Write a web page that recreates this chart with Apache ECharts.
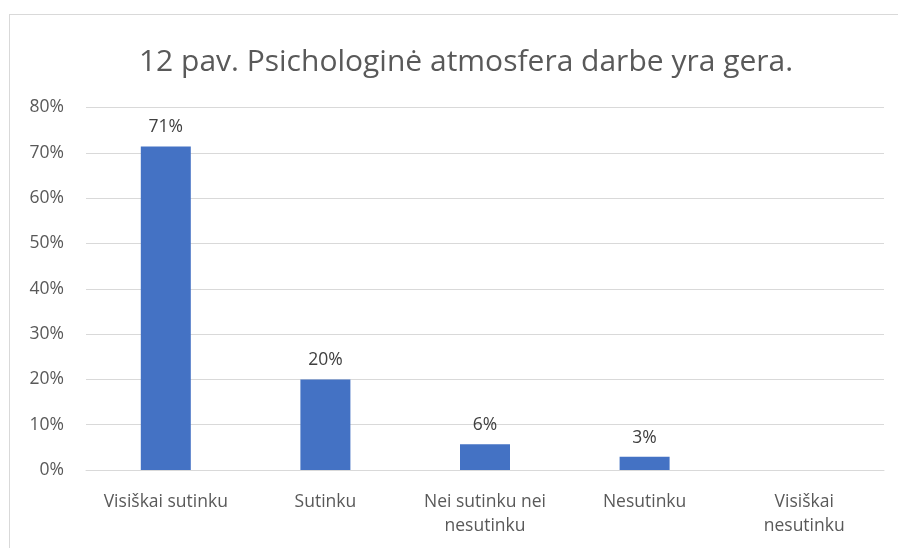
<!DOCTYPE html>
<html>
<head>
<meta charset="utf-8">
<script src="https://cdn.jsdelivr.net/npm/echarts@6/dist/echarts.min.js"></script>
<style>
  html, body { margin: 0; padding: 0; background: #fff; }
  .frame {
    position: absolute; left: 9px; top: 14px; width: 900px; height: 540px;
    border-left: 1px solid #d9d9d9; border-top: 1px solid #d9d9d9;
  }
  #chart { position: absolute; left: 0; top: 0; width: 898px; height: 548px; }
</style>
</head>
<body>
<div class="frame"></div>
<div id="chart"></div>
<script>
// atsakymų kategorijos ir procentai
const categories = ['Visiškai sutinku', 'Sutinku', 'Nei sutinku nei\nnesutinku', 'Nesutinku', 'Visiškai\nnesutinku'];
const values = [71.4, 20.0, 5.7, 2.9, 0];
const yTicks = [0, 10, 20, 30, 40, 50, 60, 70, 80];

const font = '"Open Sans", "Noto Sans", sans-serif';
const chart = echarts.init(document.getElementById('chart'));
chart.setOption({
  animation: false,
  title: {
    text: '12 pav. Psichologinė atmosfera darbe yra gera.',
    left: 461, top: 42, textAlign: 'center',
    textStyle: { fontFamily: font, fontSize: 30, fontWeight: 'normal', color: '#595959' }
  },
  grid: { left: 86, right: 14, top: 107.5, bottom: 78 },
  xAxis: {
    type: 'category',
    data: categories,
    axisLine: { lineStyle: { color: '#d9d9d9' } },
    axisTick: { show: false },
    axisLabel: { fontFamily: font, fontSize: 17.5, color: '#595959', margin: 20, lineHeight: 24, interval: 0 }
  },
  yAxis: {
    type: 'value',
    min: yTicks[0], max: yTicks[yTicks.length - 1], interval: 10,
    axisLine: { show: false },
    axisTick: { show: false },
    splitLine: { lineStyle: { color: '#d9d9d9' } },
    axisLabel: { fontFamily: font, fontSize: 17.5, color: '#595959', margin: 22, formatter: '{value}%' }
  },
  series: [{
    type: 'bar',
    data: values,
    barWidth: 50,
    itemStyle: { color: '#4472c4' },
    label: {
      show: true, position: 'top', distance: 10,
      fontFamily: font, fontSize: 17.5, color: '#404040',
      formatter: p => p.value > 0 ? Math.round(p.value) + '%' : ''
    }
  }]
});
</script>
</body>
</html>
